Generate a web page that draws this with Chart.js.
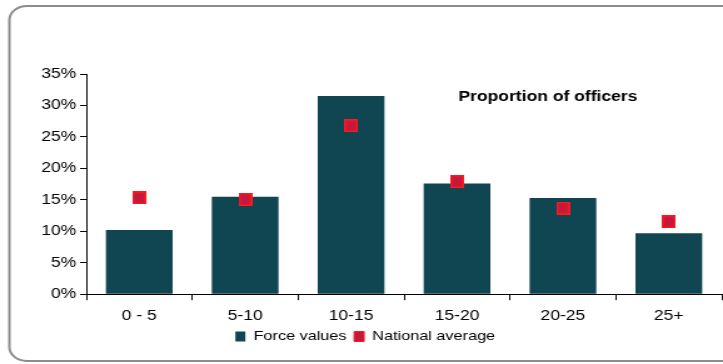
<!DOCTYPE html>
<html>
<head>
<meta charset="utf-8">
<script src="https://cdn.jsdelivr.net/npm/chart.js@4.4.1/dist/chart.umd.min.js"></script>
<style>
  html, body { margin: 0; padding: 0; background: #fff; overflow: hidden; }
  /* the reference is drawn horizontally stretched, so draw narrow and stretch */
  #wrap { width: 584px; height: 364px; position: relative; transform: scaleX(1.2509); transform-origin: 0 0; }
</style>
</head>
<body>
<div id="wrap"><canvas id="serviceChart"></canvas></div>
<script>
var categories = ['0 - 5', '5-10', '10-15', '15-20', '20-25', '25+'];
var forceValues = [10.2, 15.5, 31.5, 17.6, 15.3, 9.7];
var nationalAverage = [15.3, 15.1, 26.8, 17.9, 13.7, 11.5];
var yTicks = [0, 5, 10, 15, 20, 25, 30, 35];

var chartTitle = 'Proportion of officers';
var fontFam = '"Liberation Sans", Arial, sans-serif';

// marker: a small rect, a bit taller than wide so it looks square once stretched
var marker = document.createElement('canvas');
marker.width = 11;
marker.height = 13;
var mctx = marker.getContext('2d');
mctx.fillStyle = '#ff1a1a';
mctx.fillRect(0, 0, 11, 13);
mctx.fillStyle = '#c8173c';
mctx.fillRect(1.5, 1.5, 8, 10);

var framePlugin = {
    id: 'frame',
    beforeDraw: function (chart) {
        var c = chart.ctx;
        c.save();
        c.fillStyle = '#ffffff';
        c.fillRect(0, 0, chart.width, chart.height);
        c.strokeStyle = '#8c8c8c';
        c.lineWidth = 2;
        c.beginPath();
        c.roundRect(7.5, 6, 640, 355, 14);
        c.stroke();
        c.restore();
    },
    afterDraw: function (chart) {
        var c = chart.ctx;
        c.save();
        c.font = 'bold 14px ' + fontFam;
        c.fillStyle = '#000';
        c.textAlign = 'center';
        c.textBaseline = 'middle';
        c.fillText(chartTitle, 438, 97);
        c.restore();
    }
};

var ctx = document.getElementById('serviceChart').getContext('2d');
var myChart = new Chart(ctx, {
    type: 'bar',
    data: {
        labels: categories,
        datasets: [{
            label: 'Force values',
            data: forceValues,
            backgroundColor: '#104652',
            borderWidth: 0,
            barPercentage: 0.63,
            categoryPercentage: 1,
            order: 2
        }, {
            type: 'line',
            label: 'National average',
            data: nationalAverage,
            showLine: false,
            pointStyle: marker,
            pointRadius: 6,
            backgroundColor: '#c8173c',
            borderColor: '#ff1a1a',
            borderWidth: 1,
            order: 1
        }]
    },
    options: {
        responsive: true,
        maintainAspectRatio: false,
        animation: false,
        events: [],
        layout: { padding: { left: 0, right: 0, top: 74, bottom: 11 } },
        plugins: {
            tooltip: { enabled: false },
            title: { display: false },
            legend: {
                position: 'bottom',
                labels: {
                    boxWidth: 8,
                    boxHeight: 10,
                    padding: 6,
                    color: '#000',
                    font: { family: fontFam, size: 13 },
                    sort: function (a, b) { return a.datasetIndex - b.datasetIndex; }
                }
            }
        },
        scales: {
            x: {
                afterFit: function (scale) {
                    scale.height -= 9;
                    scale.paddingRight = 0;
                },
                grid: {
                    display: true,
                    offset: true,
                    drawOnChartArea: false,
                    tickLength: 6,
                    color: '#000'
                },
                border: { color: '#000', width: 1 },
                ticks: {
                    color: '#000',
                    padding: 8,
                    font: { family: fontFam, size: 14 }
                }
            },
            y: {
                min: 0,
                max: 35,
                afterFit: function (scale) { scale.width = 69; },
                afterBuildTicks: function (scale) {
                    scale.ticks = yTicks.map(function (v) { return { value: v }; });
                },
                grid: {
                    display: true,
                    drawOnChartArea: false,
                    tickLength: 5,
                    color: '#000'
                },
                border: { color: '#000', width: 1 },
                ticks: {
                    color: '#000',
                    padding: 3,
                    font: { family: fontFam, size: 14 },
                    callback: function (v) { return v + '%'; }
                }
            }
        }
    },
    plugins: [framePlugin]
});
</script>
</body>
</html>
